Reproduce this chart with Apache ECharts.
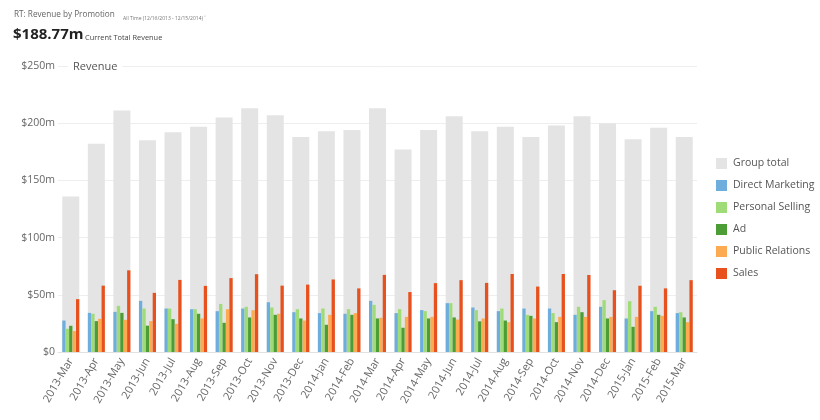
<!DOCTYPE html>
<html>
<head>
<meta charset="utf-8">
<script src="https://cdn.jsdelivr.net/npm/echarts@6/dist/echarts.min.js"></script>
<style>
html,body{margin:0;padding:0;background:#fff;}
#c{width:820px;height:420px;}
</style>
</head>
<body>
<div id="c"></div>
<script>
var categories = ['2013-Mar','2013-Apr','2013-May','2013-Jun','2013-Jul','2013-Aug','2013-Sep','2013-Oct','2013-Nov','2013-Dec',
  '2014-Jan','2014-Feb','2014-Mar','2014-Apr','2014-May','2014-Jun','2014-Jul','2014-Aug','2014-Sep','2014-Oct','2014-Nov','2014-Dec',
  '2015-Jan','2015-Feb','2015-Mar'];
var groupTotal = [136,182,211,185,192,197,205,213,207,188,193,194,213,177,194,206,193,197,188,198,206,200,186,196,188];
var directMarketing = [27.5,34.2,35.1,44.7,38,37.4,35.7,38,43.5,34.8,34,33.4,44.7,34,36.6,42.7,38.9,35.7,38,38,32.5,39.5,29.3,35.7,34];
var personalSelling = [20.3,33.4,40.3,38,38,37.4,42,39.5,38.9,37.4,38,37.4,41.2,37.4,35.7,42.7,36.6,38,32.5,34,39.5,45.3,44.4,39.5,34.8];
var ad = [22.9,27,34.2,23,28.7,33.4,25.5,30.2,32.5,29.3,23.8,32.5,29.3,21.2,29.3,30.2,26.8,27.5,31.6,26.1,34.8,29.3,22,32.5,30.2];
var publicRelations = [18.3,29,28.1,27,24.6,29.3,37.4,36.6,33.4,27.5,32.5,34,29.9,30.7,30.7,28.4,29.3,26.1,29.3,30.7,30.7,30.7,30.7,31.6,26.1];
var sales = [46.2,58,71.4,51.7,63,57.8,64.6,68,58,58.9,63.4,55.6,67.4,52.4,60.2,62.8,60.4,68.2,57.2,68.2,67.3,54,57.9,55.6,62.8];
var yTicks = ['$0','$50m','$100m','$150m','$200m','$250m'];

var FONT = '"Open Sans", "Noto Sans", sans-serif';
var colors = {
  total: '#e3e4e3', dm: '#6eaedd', ps: '#9fdb77', ad: '#4c9d35', pr: '#fdab53', sales: '#e8511d'
};
var chart = echarts.init(document.getElementById('c'), null, {renderer: 'canvas'});
function sub(name, data, color) {
  return {name: name, type: 'bar', xAxisIndex: 1, data: data, barWidth: 3.3, barGap: '4%',
    itemStyle: {color: color}, z: 3};
}
chart.setOption({
  animation: false,
  textStyle: {fontFamily: FONT},
  title: [
    {text: 'RT: Revenue by Promotion', left: 9, top: 6,
      textStyle: {fontSize: 8.2, fontWeight: 'normal', color: '#666', fontFamily: FONT}},
    {text: 'All Time (12/16/2013 - 12/15/2014) \u02C5', left: 118, top: 11,
      textStyle: {fontSize: 5, fontWeight: 'normal', color: '#777', fontFamily: FONT}},
    {text: '$188.77m', left: 8, top: 22,
      textStyle: {fontSize: 15, fontWeight: 'bold', color: '#222', fontFamily: FONT}},
    {text: 'Current Total Revenue', left: 80, top: 29.5,
      textStyle: {fontSize: 7.4, fontWeight: 'normal', color: '#444', fontFamily: FONT}},
    {text: 'Revenue', left: 68, top: 61, backgroundColor: '#fff', padding: [0, 5, 0, 5],
      textStyle: {fontSize: 11, fontWeight: 'normal', color: '#555', fontFamily: FONT}}
  ],
  legend: {
    orient: 'vertical', left: 711, top: 153, itemWidth: 11, itemHeight: 11, itemGap: 11,
    icon: 'rect',
    textStyle: {fontSize: 10.5, color: '#555', fontFamily: FONT, padding: [0, 0, 0, 1]},
    data: ['Group total','Direct Marketing','Personal Selling','Ad','Public Relations','Sales']
  },
  grid: {left: 58, right: 123, top: 66, bottom: 68, containLabel: false},
  xAxis: [
    {type: 'category', data: categories,
      axisLine: {show: true, lineStyle: {color: '#e2e2e2'}}, axisTick: {show: false},
      axisLabel: {rotate: 60, fontSize: 11, color: '#666', margin: 7, interval: 0, fontFamily: FONT}},
    {type: 'category', data: categories, show: false, position: 'bottom'}
  ],
  yAxis: {
    type: 'value', min: 0, max: 250, interval: 50,
    axisLine: {show: false}, axisTick: {show: false},
    splitLine: {lineStyle: {color: '#eeeeee'}},
    axisLabel: {fontSize: 10.5, color: '#666', margin: 3, fontFamily: FONT,
      formatter: function (v) { return yTicks[Math.round(v / 50)]; }}
  },
  series: [
    {name: 'Group total', type: 'bar', xAxisIndex: 0, data: groupTotal, barWidth: 17,
      itemStyle: {color: colors.total}, z: 2},
    sub('Direct Marketing', directMarketing, colors.dm),
    sub('Personal Selling', personalSelling, colors.ps),
    sub('Ad', ad, colors.ad),
    sub('Public Relations', publicRelations, colors.pr),
    sub('Sales', sales, colors.sales)
  ]
});
</script>
</body>
</html>
